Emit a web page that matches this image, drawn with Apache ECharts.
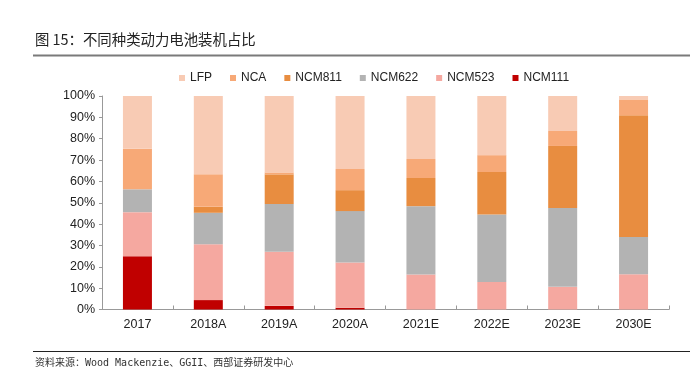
<!DOCTYPE html>
<html>
<head>
<meta charset="utf-8">
<script src="https://cdn.jsdelivr.net/npm/echarts@6/dist/echarts.min.js"></script>
<style>
  html, body { margin: 0; padding: 0; background: #fff; }
  #chart { width: 698px; height: 369px; }
</style>
</head>
<body>
<div id="chart"></div>
<script>
// categories + shares (%)
const categories = ['2017', '2018A', '2019A', '2020A', '2021E', '2022E', '2023E', '2030E'];
const ncm111 = [25.0, 4.4, 1.7, 0.8, 0, 0, 0, 0];
const ncm523 = [20.6, 26.2, 25.3, 21.2, 16.4, 12.9, 10.6, 16.5];
const ncm622 = [10.7, 14.7, 22.4, 24.1, 32.0, 31.6, 36.9, 17.4];
const ncm811 = [0, 2.8, 13.9, 9.8, 13.2, 19.9, 29.1, 57.1];
const nca = [19.0, 15.2, 0.9, 9.9, 8.9, 7.9, 7.0, 7.4];
const lfp = [24.7, 36.7, 35.8, 34.2, 29.5, 27.7, 16.4, 1.6];
const yTicks = [0, 10, 20, 30, 40, 50, 60, 70, 80, 90, 100];

const titleText = '图 15：不同种类动力电池装机占比';
const sourceText = '资料来源：Wood Mackenzie、GGII、西部证券研发中心';

const seriesDefs = [
    { name: 'NCM111', data: ncm111, color: '#C00000' },
    { name: 'NCM523', data: ncm523, color: '#F5A8A0' },
    { name: 'NCM622', data: ncm622, color: '#B3B3B3' },
    { name: 'NCM811', data: ncm811, color: '#E88D40' },
    { name: 'NCA', data: nca, color: '#F7A977' },
    { name: 'LFP', data: lfp, color: '#F8CBB4' }
];

const chart = echarts.init(document.getElementById('chart'), null, { renderer: 'canvas' });

const labelFont = 'Arial, "Liberation Sans", sans-serif';

chart.setOption({
    animation: false,
    backgroundColor: '#fff',
    graphic: [
        {
            type: 'text', left: 35, top: 32,
            style: { text: titleText, font: '14.4px "Noto Sans CJK SC", sans-serif', fill: '#222' }
        },
        {
            type: 'line', shape: { x1: 33, y1: 55.5, x2: 690, y2: 55.5 },
            style: { stroke: '#7a7a7a', lineWidth: 2 }
        },
        {
            type: 'line', shape: { x1: 33, y1: 351.5, x2: 690, y2: 351.5 },
            style: { stroke: '#222', lineWidth: 1.2 }
        },
        {
            type: 'text', left: 35, top: 358,
            style: { text: sourceText, font: '10px "DejaVu Sans Mono", "Noto Sans CJK SC", monospace', fill: '#333' }
        }
    ],
    legend: {
        data: ['LFP', 'NCA', 'NCM811', 'NCM622', 'NCM523', 'NCM111'],
        left: 179,
        top: 72,
        padding: 0,
        icon: 'rect',
        itemWidth: 6,
        itemHeight: 6,
        itemGap: 18,
        textStyle: { fontSize: 12, fontFamily: labelFont, color: '#222' }
    },
    grid: { left: 102, right: 29, top: 96, bottom: 59.5, containLabel: false },
    xAxis: {
        type: 'category',
        data: categories,
        axisLine: { lineStyle: { color: '#999', width: 1 } },
        axisTick: { show: true, inside: true, length: 4, lineStyle: { color: '#999' } },
        axisLabel: { fontSize: 12.5, fontFamily: labelFont, color: '#222', margin: 9 }
    },
    yAxis: {
        type: 'value',
        min: yTicks[0],
        max: yTicks[yTicks.length - 1],
        interval: 10,
        axisLine: { show: true, lineStyle: { color: '#999' } },
        axisTick: { show: true, length: 3, lineStyle: { color: '#999' } },
        splitLine: { show: false },
        axisLabel: { fontSize: 12.5, fontFamily: labelFont, color: '#222', margin: 7, formatter: '{value}%' }
    },
    series: seriesDefs.map(s => ({
        name: s.name,
        type: 'bar',
        stack: 'share',
        barWidth: 29,
        data: s.data,
        itemStyle: { color: s.color }
    }))
});
</script>
</body>
</html>
